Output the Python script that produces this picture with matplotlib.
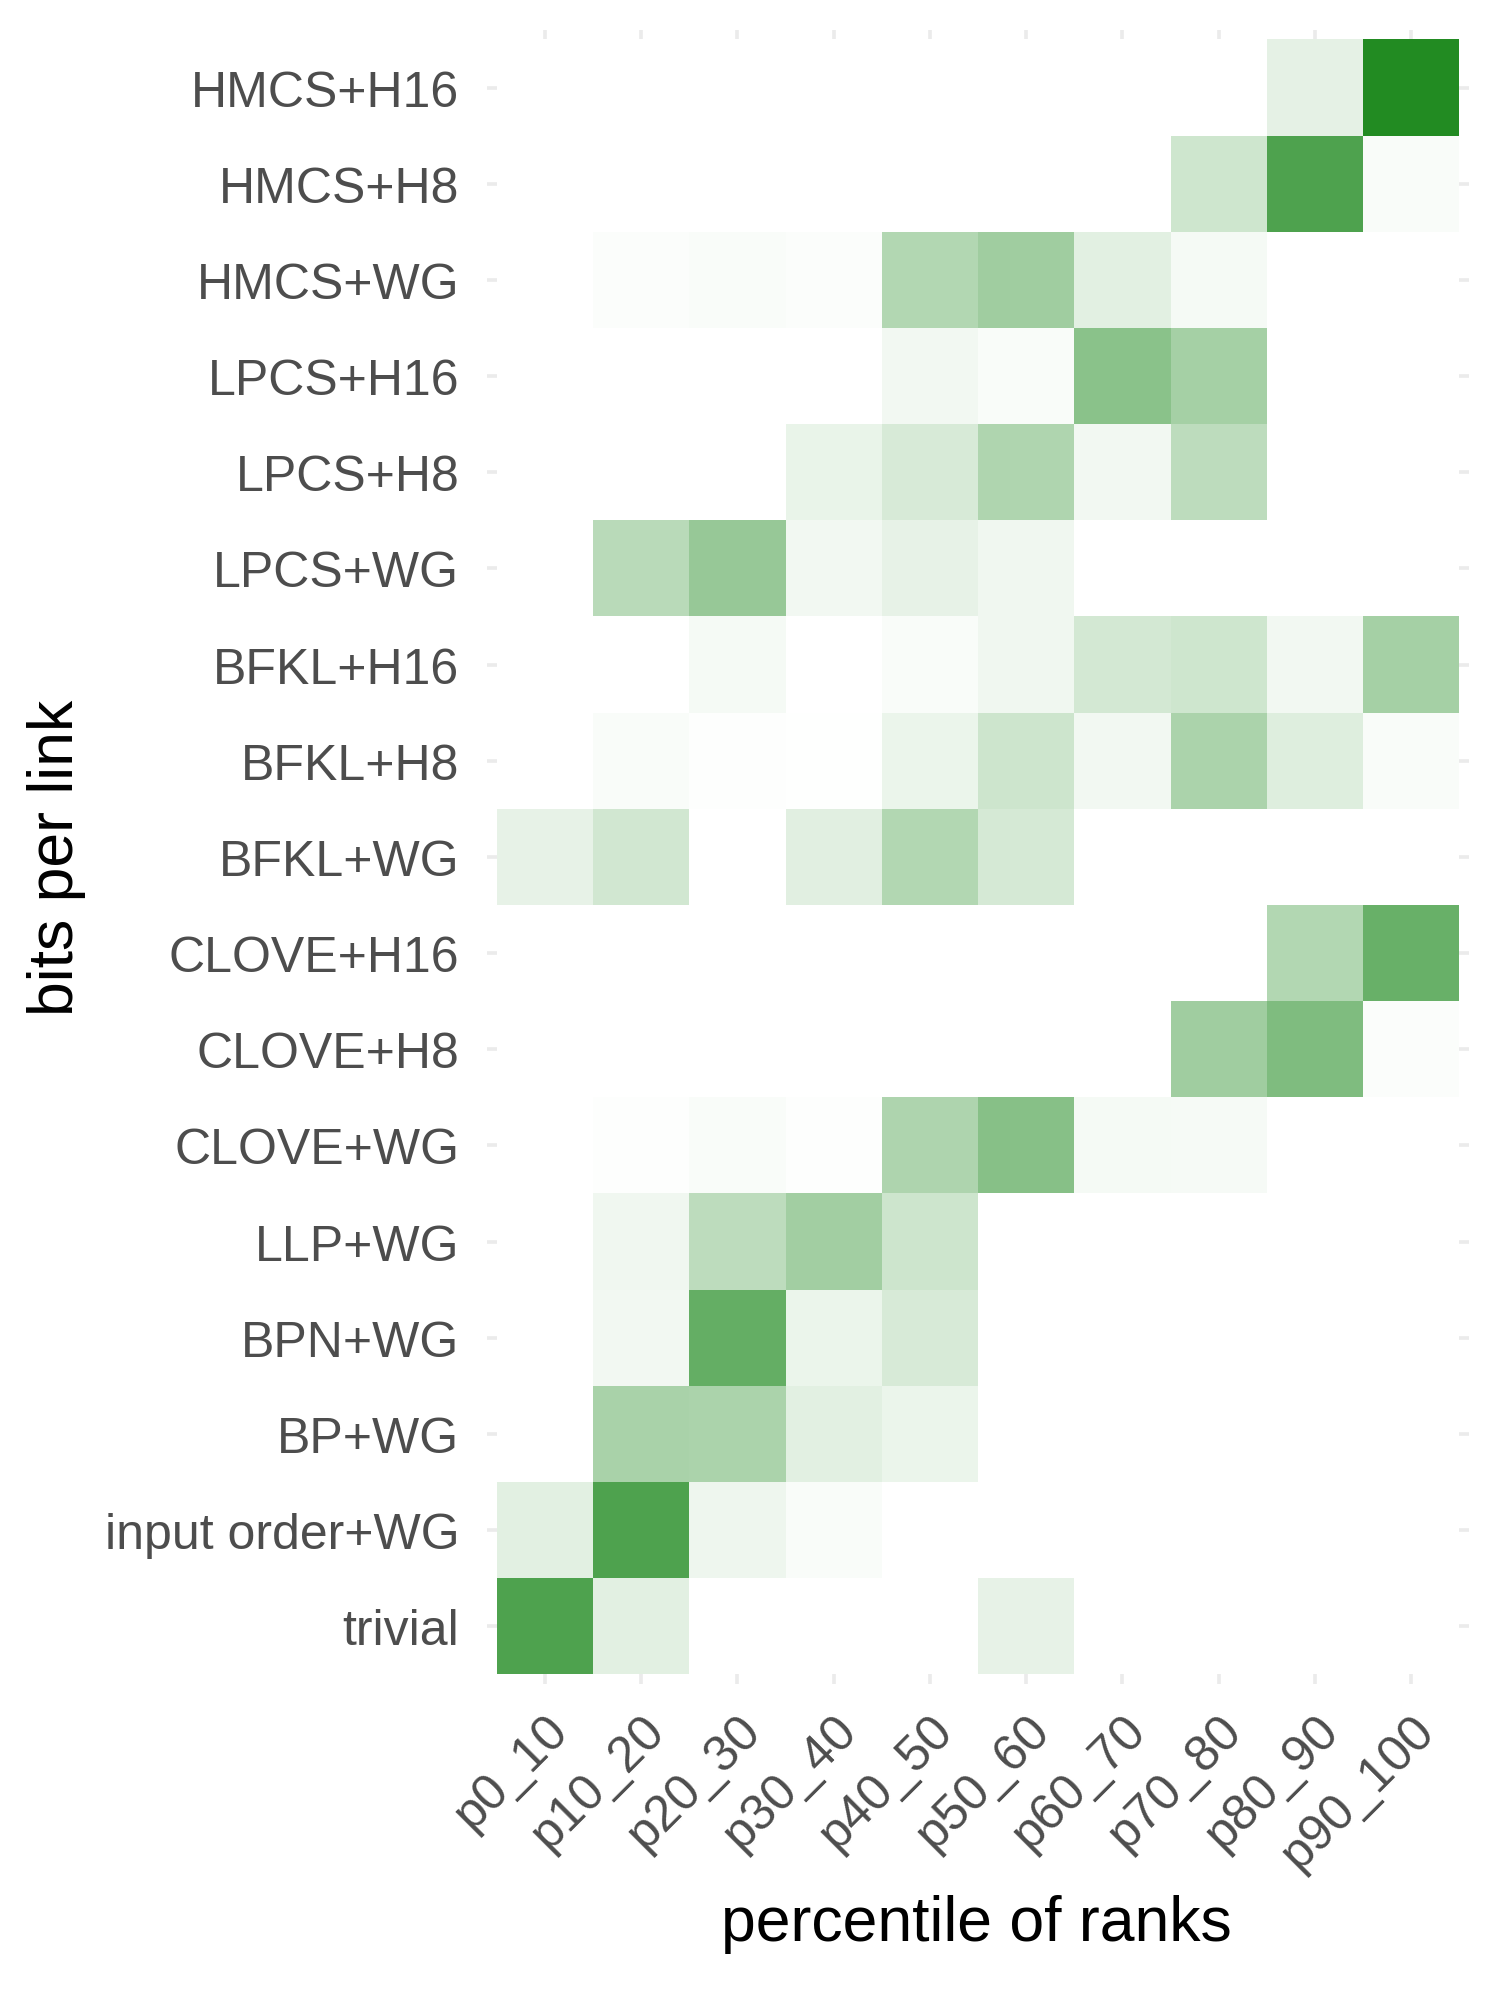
import numpy as np
import matplotlib
matplotlib.use("Agg")
from matplotlib import pyplot as plt
from matplotlib.colors import LinearSegmentedColormap

plt.rcParams["font.family"] = ["Liberation Sans", "DejaVu Sans"]

# columns (x) and rows (y, top to bottom as in the picture)
percentiles = ["p0_10", "p10_20", "p20_30", "p30_40", "p40_50",
               "p50_60", "p60_70", "p70_80", "p80_90", "p90_100"]
methods = ["HMCS+H16", "HMCS+H8", "HMCS+WG", "LPCS+H16", "LPCS+H8", "LPCS+WG",
           "BFKL+H16", "BFKL+H8", "BFKL+WG", "CLOVE+H16", "CLOVE+H8", "CLOVE+WG",
           "LLP+WG", "BPN+WG", "BP+WG", "input order+WG", "trivial"]

# share of links per percentile bin
hmcs_h16 = [0, 0, 0, 0, 0, 0, 0, 0, 0.12, 1.0]
hmcs_h8 = [0, 0, 0, 0, 0, 0, 0, 0.22, 0.80, 0.03]
hmcs_wg = [0, 0.02, 0.03, 0.02, 0.35, 0.43, 0.13, 0.05, 0, 0]
lpcs_h16 = [0, 0, 0, 0, 0.06, 0.03, 0.53, 0.41, 0, 0]
lpcs_h8 = [0, 0, 0, 0.10, 0.18, 0.36, 0.06, 0.30, 0, 0]
lpcs_wg = [0, 0.32, 0.47, 0.06, 0.11, 0.07, 0, 0, 0, 0]
bfkl_h16 = [0, 0, 0.05, 0, 0.03, 0.07, 0.20, 0.22, 0.06, 0.41]
bfkl_h8 = [0, 0.03, 0.01, 0.005, 0.09, 0.23, 0.06, 0.38, 0.15, 0.03]
bfkl_wg = [0.11, 0.21, 0, 0.14, 0.35, 0.19, 0, 0, 0, 0]
clove_h16 = [0, 0, 0, 0, 0, 0, 0, 0, 0.35, 0.68]
clove_h8 = [0, 0, 0, 0, 0, 0, 0, 0.43, 0.58, 0.02]
clove_wg = [0, 0.01, 0.03, 0.01, 0.37, 0.54, 0.05, 0.04, 0, 0]
llp_wg = [0, 0.07, 0.30, 0.42, 0.23, 0, 0, 0, 0, 0]
bpn_wg = [0, 0.06, 0.70, 0.09, 0.18, 0, 0, 0, 0, 0]
bp_wg = [0, 0.39, 0.38, 0.13, 0.09, 0, 0, 0, 0, 0]
input_wg = [0.13, 0.80, 0.08, 0.03, 0, 0, 0, 0, 0, 0]
trivial = [0.80, 0.13, 0, 0, 0, 0.11, 0, 0, 0, 0]

rows = [hmcs_h16, hmcs_h8, hmcs_wg, lpcs_h16, lpcs_h8, lpcs_wg,
        bfkl_h16, bfkl_h8, bfkl_wg, clove_h16, clove_h8, clove_wg,
        llp_wg, bpn_wg, bp_wg, input_wg, trivial]

# bottom row first for pcolormesh
grid = np.array(rows[::-1])
ylabels = methods[::-1]

cmap = LinearSegmentedColormap.from_list("wg", ["white", "forestgreen"])

fig = plt.figure(figsize=(15, 19.9), dpi=100)
ax = fig.add_axes([0.3247, 0.1533, 0.6547, 0.8312])

nx, ny = len(percentiles), len(methods)
ax.pcolormesh(np.arange(nx + 1) - 0.5, np.arange(ny + 1) - 0.5, grid,
              cmap=cmap, vmin=0, vmax=1, zorder=2)

ax.set_xlim(-0.6, nx - 0.4)
ax.set_ylim(-0.6, ny - 0.4)
ax.set_xticks(range(nx))
ax.set_yticks(range(ny))
ax.set_xticklabels(percentiles, rotation=45, ha="right", va="top",
                   rotation_mode="anchor", fontsize=36, color="#4D4D4D")
ax.set_yticklabels(ylabels, fontsize=36, color="#4D4D4D")
ax.tick_params(length=0)
ax.tick_params(axis="y", pad=20)
ax.tick_params(axis="x", pad=16)

ax.grid(True, color="#EBEBEB", linewidth=2.6, zorder=0)
ax.set_axisbelow(True)
for s in ax.spines.values():
    s.set_visible(False)

fig.text(0.651, 0.0327, "percentile of ranks", ha="center", va="center",
         fontsize=45, color="black")
fig.text(0.038, 0.569, "bits per link", ha="center", va="center",
         rotation=90, fontsize=45, color="black")

fig.savefig("out.png", dpi=100, facecolor="white")
